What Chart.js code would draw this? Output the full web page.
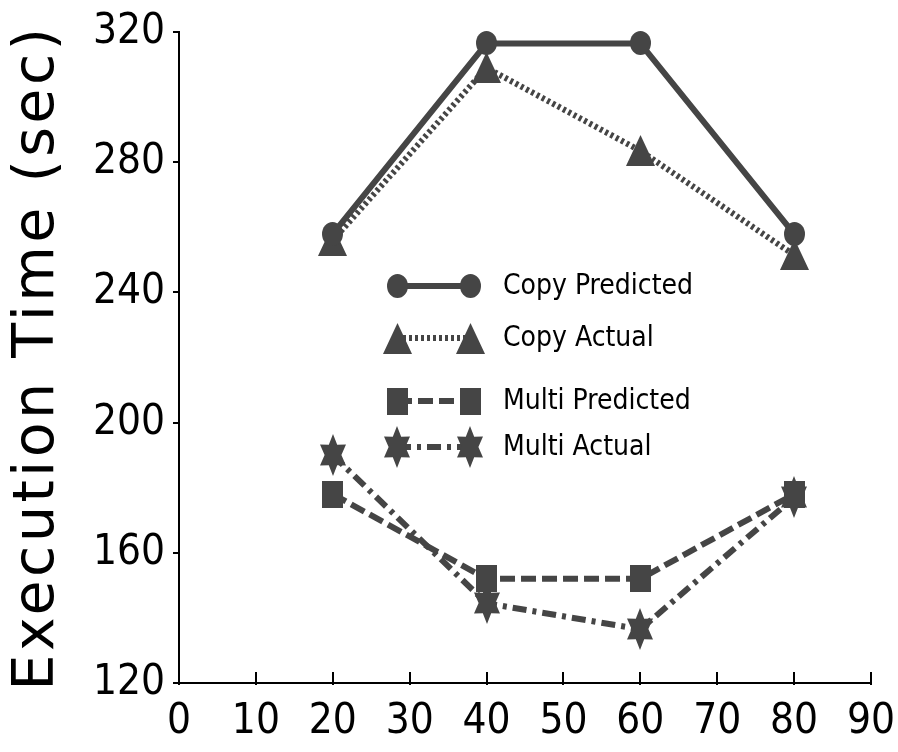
<!DOCTYPE html>
<html>
<head>
<meta charset="utf-8">
<script src="https://cdn.jsdelivr.net/npm/chart.js@4/dist/chart.umd.min.js"></script>
<style>
  html, body { margin: 0; padding: 0; background: #ffffff; }
  #c { display: block; }
</style>
</head>
<body>
<canvas id="c" width="898" height="752"></canvas>
<script>
// ---- data ----
const xValues = [20, 40, 60, 80];
const copyPredicted = [258, 316.5, 316.5, 258];
const copyActual = [256, 309, 283.5, 251.5];
const multiPredicted = [178, 152, 152, 178];
const multiActual = [190, 144.5, 136.5, 177];
const seriesLabels = ['Copy Predicted', 'Copy Actual', 'Multi Predicted', 'Multi Actual'];
const xTickValues = [0, 10, 20, 30, 40, 50, 60, 70, 80, 90];
const yTickValues = [120, 160, 200, 240, 280, 320];
const yTitle = 'Execution Time (sec)';

// ---- styling ----
const INK = '#454545';
const TICK_FONT = "'DejaVu Sans Condensed', 'Liberation Sans Narrow', 'DejaVu Sans', sans-serif";

function makeMarker(w, h, draw) {
  const c = document.createElement('canvas');
  c.width = w; c.height = h;
  const g = c.getContext('2d');
  g.fillStyle = INK;
  draw(g, w, h);
  return c;
}
const circleImg = makeMarker(21, 24, (g, w, h) => {
  g.beginPath(); g.ellipse(w / 2, h / 2, w / 2, h / 2, 0, 0, Math.PI * 2); g.fill();
});
const triImg = makeMarker(29, 31, (g, w, h) => {
  g.beginPath(); g.moveTo(w / 2, 0); g.lineTo(w, h); g.lineTo(0, h); g.closePath(); g.fill();
});
const squareImg = makeMarker(21, 27, (g, w, h) => { g.fillRect(0, 0, w, h); });
const starImg = makeMarker(26, 42, (g, w, h) => {
  const cx = w / 2, cy = h / 2;
  const rx = (w / 2) / Math.cos(Math.PI / 6), ry = h / 2, k = 0.56;
  g.beginPath();
  for (let i = 0; i < 12; i++) {
    const a = -Math.PI / 2 + i * Math.PI / 6;
    const r = (i % 2 === 0) ? 1 : k;
    const px = cx + Math.cos(a) * rx * r, py = cy + Math.sin(a) * ry * r;
    if (i === 0) g.moveTo(px, py); else g.lineTo(px, py);
  }
  g.closePath(); g.fill();
});

function pts(ys) { return xValues.map((x, i) => ({ x: x, y: ys[i] })); }

const datasets = [
  { label: seriesLabels[0], data: pts(copyPredicted), borderColor: INK, borderWidth: 6, borderDash: [], pointStyle: circleImg },
  { label: seriesLabels[1], data: pts(copyActual), borderColor: INK, borderWidth: 6, borderDash: [3, 3], pointStyle: triImg },
  { label: seriesLabels[2], data: pts(multiPredicted), borderColor: INK, borderWidth: 6, borderDash: [15, 6], pointStyle: squareImg },
  { label: seriesLabels[3], data: pts(multiActual), borderColor: INK, borderWidth: 6, borderDash: [14, 6, 4, 6], pointStyle: starImg }
].map(d => Object.assign(d, {
  backgroundColor: INK, pointBackgroundColor: INK, fill: false, tension: 0,
  borderCapStyle: 'butt', borderJoinStyle: 'round', clip: false
}));

// crisp marker images
const crisp = {
  id: 'crisp',
  beforeDatasetsDraw(chart) { chart.ctx.imageSmoothingEnabled = false; },
  afterDatasetsDraw(chart) { chart.ctx.imageSmoothingEnabled = true; }
};

// spaced-out rotated axis title
const titleSpacing = {
  id: 'titleSpacing',
  afterLayout(chart) {
    const s = chart.scales.y;
    if (s._spacedTitle) return;
    const orig = Object.getPrototypeOf(s).drawTitle;
    s.drawTitle = function () {
      const ctx = this.ctx;
      const prev = ctx.letterSpacing;
      ctx.letterSpacing = '3.5px';
      orig.call(this);
      ctx.letterSpacing = prev || '0px';
    };
    s._spacedTitle = true;
  }
};

// inward tick marks on the x axis
const innerTicks = {
  id: 'innerTicks',
  beforeDatasetsDraw(chart) {
    const s = chart.scales.x, ctx = chart.ctx;
    ctx.save();
    ctx.strokeStyle = '#000'; ctx.lineWidth = 2;
    s.ticks.forEach(t => {
      const px = Math.round(s.getPixelForValue(t.value));
      ctx.beginPath(); ctx.moveTo(px, s.top - 11); ctx.lineTo(px, s.top + 2); ctx.stroke();
    });
    ctx.restore();
  }
};

// legend with marker - line - marker samples
const sampleLegend = {
  id: 'sampleLegend',
  afterDatasetsDraw(chart) {
    const ctx = chart.ctx;
    const rowsY = [286, 338, 401, 447];
    const xL = 397, xR = 470, xText = 503;
    ctx.save();
    chart.data.datasets.forEach((d, i) => {
      const y = rowsY[i];
      ctx.strokeStyle = d.borderColor; ctx.lineWidth = d.borderWidth;
      ctx.setLineDash(d.borderDash || []);
      ctx.lineCap = 'butt';
      ctx.beginPath(); ctx.moveTo(xL, y); ctx.lineTo(xR, y); ctx.stroke();
      ctx.setLineDash([]);
      const img = d.pointStyle;
      ctx.drawImage(img, Math.round(xL - img.width / 2), Math.round(y - img.height / 2));
      ctx.drawImage(img, Math.round(xR - img.width / 2), Math.round(y - img.height / 2));
      ctx.fillStyle = '#000';
      ctx.font = "28px " + TICK_FONT;
      ctx.textBaseline = 'middle'; ctx.textAlign = 'left';
      ctx.fillText(d.label, xText, y + 1);
    });
    ctx.restore();
  }
};

new Chart(document.getElementById('c'), {
  type: 'line',
  data: { datasets: datasets },
  plugins: [crisp, titleSpacing, innerTicks, sampleLegend],
  options: {
    responsive: false,
    animation: false,
    devicePixelRatio: 1,
    layout: { padding: { left: 0, right: 27, top: 32, bottom: 0 } },
    plugins: { legend: { display: false }, tooltip: { enabled: false } },
    scales: {
      x: {
        type: 'linear', min: 0, max: 90,
        afterBuildTicks: s => { s.ticks = xTickValues.map(v => ({ value: v })); },
        afterFit: s => { s.height = 69; s.paddingLeft = 0; s.paddingRight = 0; },
        ticks: { color: '#000', padding: 14, font: { family: TICK_FONT, size: 42 }, maxRotation: 0, autoSkip: false },
        grid: { display: true, drawOnChartArea: false, drawTicks: false },
        border: { display: true, color: '#000', width: 2 }
      },
      y: {
        type: 'linear', min: 120, max: 320,
        afterBuildTicks: s => { s.ticks = yTickValues.map(v => ({ value: v })); },
        afterFit: s => { s.width = 179; s.paddingTop = 0; s.paddingBottom = 0; },
        ticks: { color: '#000', padding: 8, font: { family: TICK_FONT, size: 42 } },
        grid: { display: true, drawOnChartArea: false, drawTicks: true, tickLength: 6, tickColor: '#000', lineWidth: 2 },
        border: { display: true, color: '#000', width: 2 },
        title: { display: true, text: yTitle, color: '#000', padding: { top: 4, bottom: 0 },
                 font: { family: "'DejaVu Sans', sans-serif", size: 57 } }
      }
    }
  }
});
</script>
</body>
</html>
